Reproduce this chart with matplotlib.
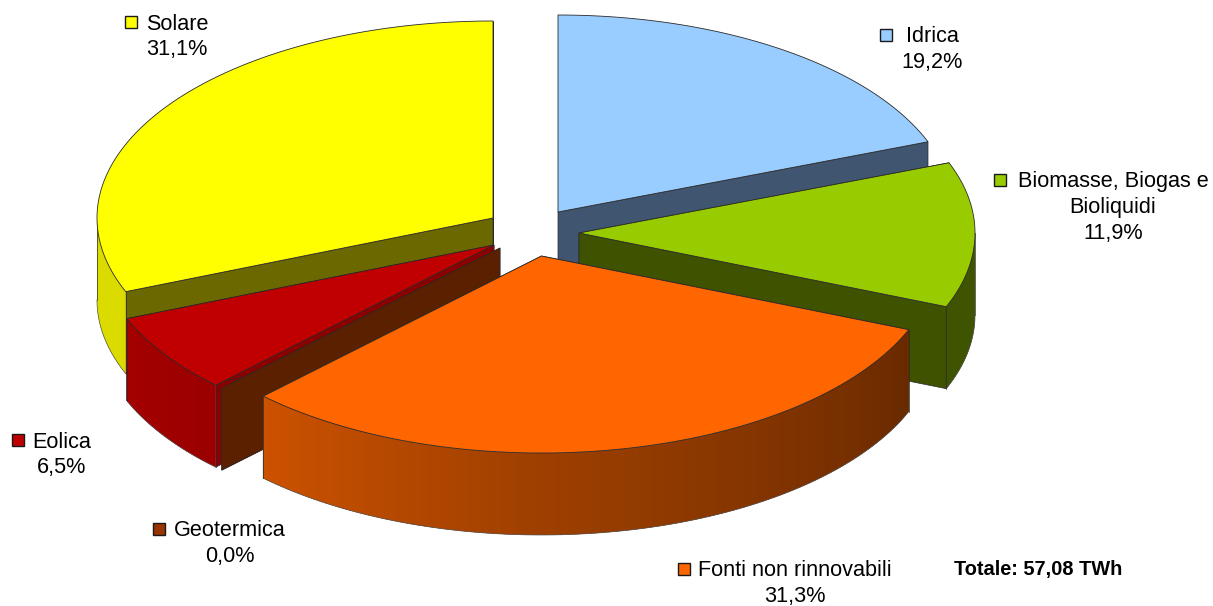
import numpy as np
import matplotlib
matplotlib.use("Agg")
import matplotlib.pyplot as plt
from matplotlib.patches import Polygon, Rectangle

plt.rcParams['font.family'] = ['Liberation Sans', 'DejaVu Sans']

# data, in the order the slices go round clockwise from the top
names = ["Idrica", "Biomasse, Biogas e\nBioliquidi", "Fonti non rinnovabili", "Geotermica", "Eolica", "Solare"]
shares = [19.2, 11.9, 31.3, 0.0, 6.5, 31.1]
total_label = "Totale: 57,08 TWh"

# styles
top_colors = ["#99ccff", "#99cc00", "#ff6600", "#993300", "#c00000", "#ffff00"]
wall_colors = ["#3f5570", "#3f5200", "#6b2a00", "#5a2000", "#8b0000", "#6b6800"]
# slice centres once pulled out of the pie, in pixels
apex_x = [558, 579, 541.5, 500, 494, 493]
apex_y = [212, 233, 256, 248, 245, 218]
# labels: centre of the text, first line y, left of the colour key
label_x = [932, 1113, 795, 230, 62, 177]
label_y = [35, 180, 569, 529, 440, 22]
key_x = [880, 994, 678, 153, 12, 125]

RX = 396
RY = 197
DEPTH = 82
LINE_STEP = 25.5
TEXT_DROP = 2
draw_order = [5, 0, 1, 4, 3, 2]

fig = plt.figure(figsize=(12.13, 6.06), dpi=100)
ax = fig.add_axes([0, 0, 1, 1])
ax.set_xlim(0, 1213)
ax.set_ylim(606, 0)
ax.axis('off')


def rim(cx, cy, a0, a1, n=120):
    # points on the ellipse, angle in degrees clockwise from the top
    t = np.radians(np.linspace(a0, a1, n))
    return cx + RX * np.sin(t), cy - RY * np.cos(t)


def side_shade(angle):
    # the outer wall gets lighter going round from right to left
    return np.interp(angle, [112, 135, 180, 224, 250], [0.41, 0.48, 0.62, 0.8, 0.86])


def shaded(color, k):
    return tuple(c * k for c in matplotlib.colors.to_rgb(color))


edges = np.cumsum([0] + shares) * 3.6

for z, i in enumerate(draw_order):
    a0, a1 = edges[i], edges[i + 1]
    cx, cy = apex_x[i], apex_y[i]

    # the two cut faces
    for a in (a0, a1):
        x, y = rim(cx, cy, a, a, 1)
        face = [(cx, cy), (x[0], y[0]), (x[0], y[0] + DEPTH), (cx, cy + DEPTH)]
        ax.add_patch(Polygon(face, closed=True, fc=wall_colors[i], ec="#2a2a2a", lw=0.5, zorder=z))

    # outer wall, only the front half of the ellipse can be seen
    lo, hi = max(a0, 90), min(a1, 270)
    if hi > lo:
        steps = np.linspace(lo, hi, int(hi - lo) + 2)
        for s0, s1 in zip(steps[:-1], steps[1:]):
            # each strip runs on under the next one so no seams show
            x, y = rim(cx, cy, s0, min(s1 + 1.5, hi), 6)
            pts = list(zip(x, y)) + list(zip(x[::-1], y[::-1] + DEPTH))
            c = shaded(top_colors[i], side_shade((s0 + s1) / 2))
            ax.add_patch(Polygon(pts, closed=True, fc=c, ec='none', zorder=z))
        x, y = rim(cx, cy, lo, hi)
        ax.plot(x, y + DEPTH, color="#555555", lw=0.5, zorder=z)
        ax.plot([x[0], x[0]], [y[0], y[0] + DEPTH], color="#2a2a2a", lw=0.5, zorder=z)
        ax.plot([x[-1], x[-1]], [y[-1], y[-1] + DEPTH], color="#2a2a2a", lw=0.5, zorder=z)

    # top face
    if a1 > a0:
        x, y = rim(cx, cy, a0, a1)
        pts = [(cx, cy)] + list(zip(x, y))
        ax.add_patch(Polygon(pts, closed=True, fc=top_colors[i], ec="#2a2a2a", lw=0.6, zorder=z))

for i in range(len(names)):
    lines = names[i].split("\n") + [f"{shares[i]:.1f}".replace(".", ",") + "%"]
    for n, line in enumerate(lines):
        ax.text(label_x[i], label_y[i] + TEXT_DROP + n * LINE_STEP, line, ha='center', va='center',
                fontsize=15.6, color="black", zorder=20)
    ax.add_patch(Rectangle((key_x[i], label_y[i] - 6), 12, 12, fc=top_colors[i],
                           ec="#1a1a1a", lw=1.0, zorder=20))

ax.text(1038, 570, total_label, ha='center', va='center', fontsize=14.4,
        fontweight='bold', color="black", zorder=20)

fig.savefig("out.png", dpi=100, facecolor="white")
